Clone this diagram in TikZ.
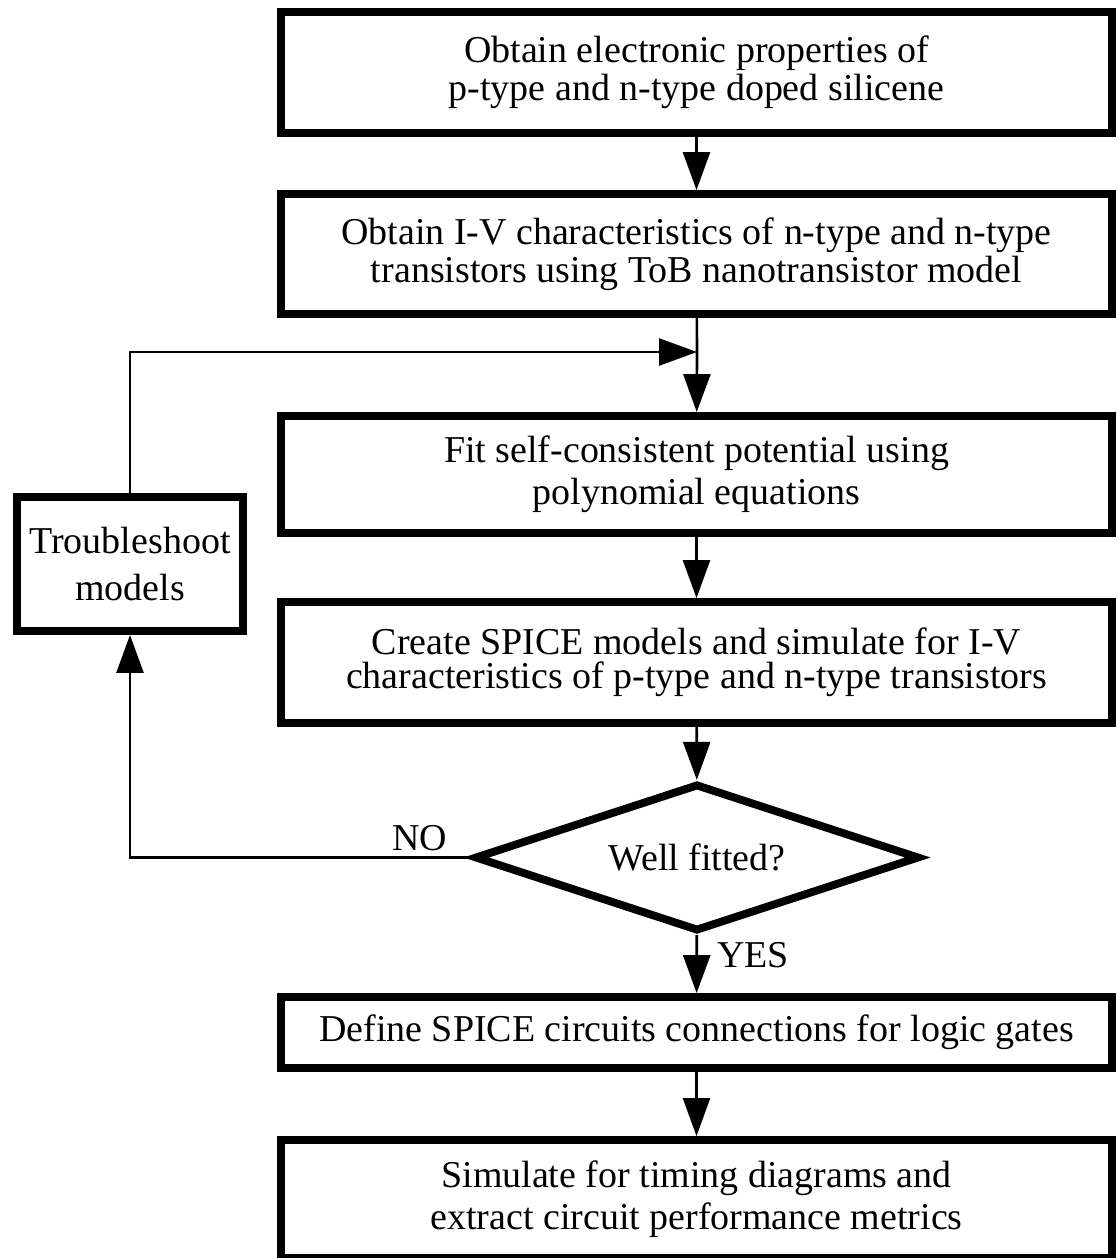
\documentclass[tikz,border=0pt]{standalone}
\usepackage{fontspec}
\setmainfont{Liberation Serif}
\usepackage{tikz}
\usetikzlibrary{arrows.meta}
\usetikzlibrary{shapes.geometric}

\begin{document}
\begin{tikzpicture}[baseline, line width=1.5pt, scale=1.0,
  font=\fontsize{21.6}{18.5}\selectfont,
  procbox/.style={draw, rectangle, line width=4.5pt, minimum width=16.62cm, align=center, inner sep=0pt},
  testbox/.style={draw, diamond, shape aspect=3, line width=4.5pt, minimum width=8.9cm, minimum height=2.95cm, inner sep=0pt},
  flow/.style={-{Triangle[length=0.76cm, width=0.54cm]}}]

  \useasboundingbox (0,0) rectangle (22.36,-25.16);

  \begin{scope}[xshift=0.0cm, yshift=0.0cm]

  \draw (13.93,-1.45) node[procbox, minimum height=2.42cm, name=s1]
    {Obtain electronic properties of\\[1pt] p-type and n-type doped silicene};
  \draw (13.93,-5.08) node[procbox, minimum height=2.40cm, name=s2]
    {Obtain I-V characteristics of n-type and n-type\\[1pt] transistors using ToB nanotransistor model};
  \draw (13.93,-9.49) node[procbox, minimum height=2.34cm, name=s3]
    {Fit self-consistent potential using\\[3pt] polynomial equations};
  \draw (13.93,-13.25) node[procbox, minimum height=2.42cm, name=s4]
    {Create SPICE models and simulate for I-V\\[1pt] characteristics of p-type and n-type transistors};
  \draw (13.94,-17.15) node[testbox, name=q1] {Well fitted?};
  \draw (13.93,-20.65) node[procbox, minimum height=1.42cm, name=s5]
    {Define SPICE circuits connections for logic gates};
  \draw (13.93,-23.98) node[procbox, minimum height=2.36cm, name=s6]
    {Simulate for timing diagrams and\\[3pt] extract circuit performance metrics};

  \draw (2.60,-11.28) node[procbox, minimum width=4.52cm, minimum height=2.68cm, name=fix]
    {Troubleshoot\\[8pt] models};

  \draw (13.94,-7.04) coordinate (jn);

  % main chain
  \draw [flow] (s1) -- (s2);
  \draw [-] (s2) -- (jn);
  \draw [flow] (jn) -- (s3);
  \draw [flow] (s3) -- (s4);
  \draw [flow] (s4) -- (q1);
  \draw [flow] (q1) -- (s5);
  \draw [flow] (s5) -- (s6);

  % loop back
  \draw [flow] (q1.west) -| (fix.south);
  \draw [flow] (fix.north) |- (jn);

  \draw (8.40,-16.76) node[name=no] {NO};
  \draw (15.06,-19.10) node[name=yes] {YES};

  \end{scope}

\end{tikzpicture}
\end{document}
